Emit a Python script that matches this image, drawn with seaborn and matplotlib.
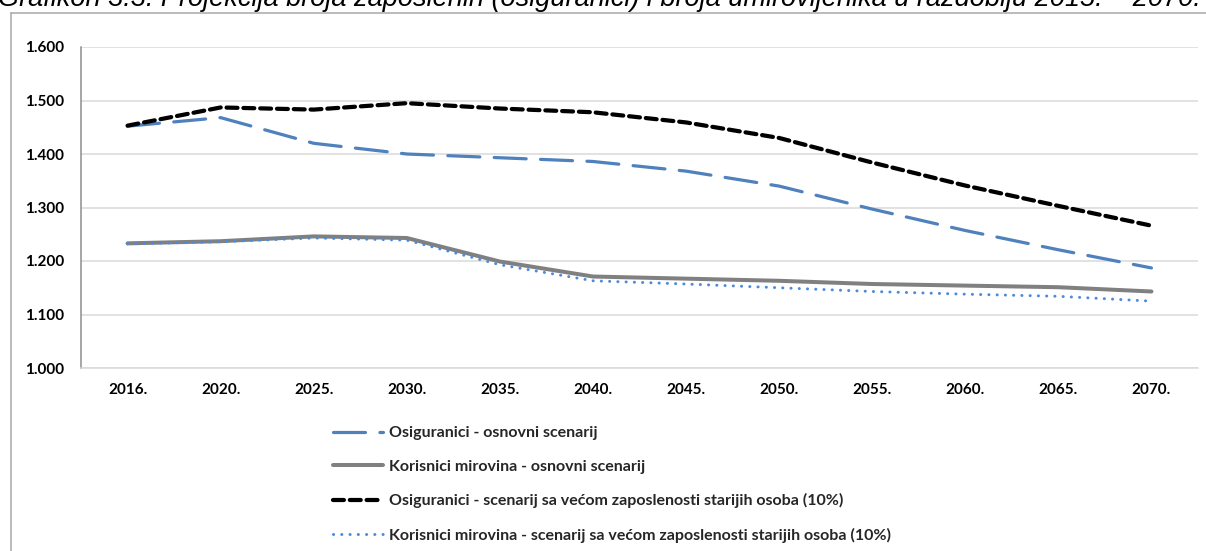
import numpy as np
import pandas as pd
import matplotlib
matplotlib.use("Agg")
import matplotlib.pyplot as plt
import seaborn as sns
from matplotlib.lines import Line2D
from matplotlib.ticker import FuncFormatter

# ---- data (thousands) ----
years = ["2016.", "2020.", "2025.", "2030.", "2035.", "2040.", "2045.", "2050.", "2055.", "2060.", "2065.", "2070."]
osig_osn = [1452, 1468, 1420, 1400, 1393, 1386, 1368, 1340, 1297, 1257, 1221, 1187]
kor_osn = [1233, 1237, 1246, 1243, 1199, 1171, 1167, 1163, 1157, 1154, 1151, 1143]
osig_sc = [1453, 1487, 1483, 1495, 1485, 1478, 1459, 1430, 1384, 1341, 1303, 1266]
kor_sc = [1232, 1236, 1243, 1239, 1193, 1163, 1157, 1150, 1143, 1138, 1134, 1125]
labels = [
    "Osiguranici - osnovni scenarij",
    "Korisnici mirovina - osnovni scenarij",
    "Osiguranici - scenarij sa većom zaposlenosti starijih osoba (10%)",
    "Korisnici mirovina - scenarij sa većom zaposlenosti starijih osoba (10%)",
]
title = "Grafikon 3.3. Projekcija broja zaposlenih (osiguranici) i broja umirovljenika u razdoblju 2015. – 2070."

sns.set_style("white")
plt.rcParams["font.family"] = ["Lato", "DejaVu Sans"]

W, H = 1206, 551
fig = plt.figure(figsize=(W / 100, H / 100), dpi=100)
ax = fig.add_axes([81 / W, 1 - 368 / H, (1198 - 81) / W, (368 - 47) / H])

px = 0.72  # points per pixel
styles = [
    dict(color="#4F81BD", lw=3.2 * px, ls=(0, (10, 4.5)), dash_capstyle="round"),
    dict(color="#808080", lw=4 * px, ls="-"),
    dict(color="#000000", lw=4.2 * px, ls=(0, (2.6, 1.4)), dash_capstyle="round"),
    dict(color="#4A8BDB", lw=3 * px, ls=(0, (0.05, 2.7)), dash_capstyle="round"),
]
series = [osig_osn, kor_osn, osig_sc, kor_sc]

handles = []
for vals, lab, st in zip(series, labels, styles):
    df = pd.DataFrame({"year": years, "value": vals})
    sns.lineplot(data=df, x="year", y="value", ax=ax, color=st["color"],
                 linewidth=st["lw"], sort=False, legend=False)
    ln = ax.get_lines()[-1]
    ln.set_linestyle(st["ls"])
    if "dash_capstyle" in st:
        ln.set_dash_capstyle(st["dash_capstyle"])
    ln.set_solid_capstyle("round")
    h = Line2D([], [], color=st["color"], lw=st["lw"], ls=st["ls"],
               dash_capstyle=st.get("dash_capstyle", "butt"))
    handles.append(h)

ax.set_xlim(-0.5, len(years) - 0.5)
ax.set_ylim(1000, 1600)
ax.set_yticks(np.arange(1000, 1601, 100))
ax.yaxis.set_major_formatter(FuncFormatter(lambda v, p: f"{int(v):,}".replace(",", ".")))
ax.grid(axis="y", color="#D9D9D9", lw=1.5 * px)
ax.set_axisbelow(True)
ax.set_xlabel("")
ax.set_ylabel("")
for s in ["top", "right"]:
    ax.spines[s].set_visible(False)
ax.spines["left"].set_color("#8C8C8C")
ax.spines["left"].set_linewidth(1.5 * px)
ax.spines["bottom"].set_color("#D9D9D9")
ax.spines["bottom"].set_linewidth(1.5 * px)
ax.tick_params(axis="both", length=0, labelsize=11, colors="#000000")
ax.tick_params(axis="x", pad=11)
ax.tick_params(axis="y", pad=12)
for t in ax.get_xticklabels() + ax.get_yticklabels():
    t.set_fontweight("bold")

leg = fig.legend(handles, labels, loc="upper left",
                 bbox_to_anchor=(333 / W, 1 - 426 / H), frameon=False,
                 prop={"family": ["Lato", "DejaVu Sans"], "weight": "bold", "size": 11.5},
                 handlelength=3.1, handletextpad=0.4, labelspacing=1.22,
                 borderpad=0, borderaxespad=0)

# outer frame (partially cut off)
fig.add_artist(Line2D([11 / W, 11 / W], [0, 1 - 13 / H], color="#A6A6A6", lw=1.5 * px))
fig.add_artist(Line2D([11 / W, 1], [1 - 13 / H, 1 - 13 / H], color="#A6A6A6", lw=1.5 * px))

# title, cut off at the top as in the source image
fig.text(-2 / W, 1 - 6.5 / H, title, ha="left", va="baseline", style="italic",
         fontsize=19.5, family=["Liberation Sans", "DejaVu Sans"], color="#000000")

fig.savefig("out.png", dpi=100)
